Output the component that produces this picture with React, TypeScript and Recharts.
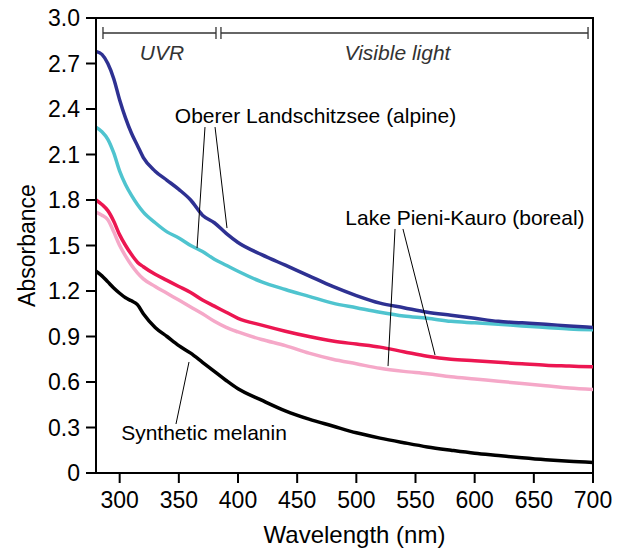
import React from "react"
import { LineChart, Line, XAxis, YAxis, ReferenceLine, ReferenceDot, ReferenceArea } from "recharts"

const wavelength = [280, 285, 290, 295, 300, 305, 310, 315, 320, 330, 340, 350, 360, 370, 380, 390, 400, 420, 440, 460, 480, 500, 520, 540, 560, 580, 600, 620, 640, 660, 680, 700]

// Oberer Landschitzsee (alpine), two extracts
const alpineDark = [2.78, 2.76, 2.7, 2.6, 2.46, 2.34, 2.24, 2.16, 2.08, 1.99, 1.93, 1.87, 1.8, 1.7, 1.65, 1.58, 1.52, 1.44, 1.37, 1.3, 1.23, 1.17, 1.12, 1.09, 1.06, 1.04, 1.02, 1.0, 0.99, 0.98, 0.97, 0.96]
const alpineLight = [2.28, 2.25, 2.2, 2.11, 1.99, 1.9, 1.83, 1.77, 1.72, 1.65, 1.59, 1.55, 1.5, 1.46, 1.41, 1.37, 1.33, 1.26, 1.21, 1.165, 1.12, 1.09, 1.06, 1.035, 1.02, 1.0, 0.99, 0.98, 0.97, 0.96, 0.95, 0.945]

// Lake Pieni-Kauro (boreal)
const borealDark = [1.8, 1.77, 1.73, 1.66, 1.57, 1.5, 1.44, 1.39, 1.36, 1.31, 1.27, 1.23, 1.19, 1.14, 1.1, 1.06, 1.02, 0.975, 0.935, 0.9, 0.87, 0.85, 0.83, 0.8, 0.77, 0.75, 0.74, 0.73, 0.72, 0.71, 0.705, 0.7]
const borealLight = [1.72, 1.7, 1.67, 1.59, 1.5, 1.43, 1.37, 1.32, 1.28, 1.23, 1.185, 1.14, 1.095, 1.05, 1.0, 0.96, 0.93, 0.88, 0.84, 0.79, 0.75, 0.72, 0.69, 0.67, 0.655, 0.635, 0.62, 0.605, 0.59, 0.575, 0.56, 0.55]

const melanin = [1.33, 1.3, 1.26, 1.22, 1.185, 1.155, 1.135, 1.11, 1.05, 0.96, 0.9, 0.84, 0.79, 0.73, 0.67, 0.61, 0.555, 0.48, 0.41, 0.355, 0.31, 0.265, 0.23, 0.2, 0.172, 0.15, 0.13, 0.115, 0.1, 0.087, 0.077, 0.07]

const xTicks = [300, 350, 400, 450, 500, 550, 600, 650, 700]
const yTicks = [0, 0.3, 0.6, 0.9, 1.2, 1.5, 1.8, 2.1, 2.4, 2.7, 3.0]

const data = wavelength.map((w, i) => ({
  w,
  alpineDark: alpineDark[i],
  alpineLight: alpineLight[i],
  borealDark: borealDark[i],
  borealLight: borealLight[i],
  melanin: melanin[i],
}))

const font = "'Liberation Sans', Arial, sans-serif"
const tickStyle = { fontSize: 23, fill: "#000" }

const seg = (x1: number, y1: number, x2: number, y2: number, stroke = "#000", w = 1) => (
  <ReferenceLine
    key={`${x1}-${y1}-${x2}-${y2}`}
    segment={[{ x: x1, y: y1 }, { x: x2, y: y2 }]}
    stroke={stroke}
    strokeWidth={w}
    ifOverflow="visible"
  />
)

const note = (x: number, y: number, text: string, italic = false) => (
  <ReferenceDot
    key={text}
    x={x}
    y={y}
    r={0}
    fill="none"
    stroke="none"
    ifOverflow="visible"
    label={{
      value: text,
      position: "center",
      fontSize: 21,
      fill: italic ? "#333" : "#000",
      fontStyle: italic ? "italic" : "normal",
    }}
  />
)

export default function App() {
  return (
    <div style={{ position: "absolute", left: 0, top: 0, fontFamily: font, background: "#fff" }}>
      <LineChart width={628} height={551} data={data} margin={{ top: 18, right: 35, left: 0, bottom: 0 }}>
        <ReferenceArea x1={280} x2={700} y1={0} y2={3} fill="none" stroke="#000" strokeWidth={2} ifOverflow="visible" />
        <XAxis
          dataKey="w"
          type="number"
          domain={[280, 700]}
          ticks={xTicks}
          allowDataOverflow
          height={78}
          tickSize={10}
          tickMargin={9}
          tick={tickStyle}
          axisLine={{ stroke: "#000", strokeWidth: 2 }}
          tickLine={{ stroke: "#000", strokeWidth: 2 }}
          label={{ value: "Wavelength (nm)", position: "insideBottom", offset: 8, fontSize: 24, fill: "#000", dx: 10 }}
        />
        <YAxis
          type="number"
          domain={[0, 3]}
          ticks={yTicks}
          width={96}
          tickSize={10}
          tickMargin={6}
          tick={tickStyle}
          tickFormatter={(v: number) => (v === 0 ? "0" : v.toFixed(1))}
          axisLine={{ stroke: "#000", strokeWidth: 2 }}
          tickLine={{ stroke: "#000", strokeWidth: 2 }}
          label={{ value: "Absorbance", angle: -90, position: "insideLeft", offset: 27, fontSize: 23, fill: "#000", style: { textAnchor: "middle" } }}
        />

        {/* UVR / visible light brackets */}
        {seg(285.9, 2.901, 381.4, 2.901, "#333", 1.3)}
        {seg(285.9, 2.862, 285.9, 2.941, "#333", 1.3)}
        {seg(381.4, 2.862, 381.4, 2.941, "#333", 1.3)}
        {seg(385.6, 2.862, 385.6, 2.941, "#333", 1.3)}
        {seg(385.6, 2.901, 695.8, 2.901, "#333", 1.3)}
        {seg(695.8, 2.862, 695.8, 2.941, "#333", 1.3)}
        {note(335.8, 2.772, "UVR", true)}
        {note(534.8, 2.772, "Visible light", true)}

        <Line dataKey="melanin" stroke="#000" strokeWidth={3.5} dot={false} type="monotone" isAnimationActive={false} />
        <Line dataKey="borealLight" stroke="#F5A8C8" strokeWidth={3.5} dot={false} type="monotone" isAnimationActive={false} />
        <Line dataKey="borealDark" stroke="#EC1651" strokeWidth={3.5} dot={false} type="monotone" isAnimationActive={false} />
        <Line dataKey="alpineLight" stroke="#4FC4CF" strokeWidth={3.5} dot={false} type="monotone" isAnimationActive={false} />
        <Line dataKey="alpineDark" stroke="#2E3192" strokeWidth={3.5} dot={false} type="monotone" isAnimationActive={false} />

        {/* leader lines */}
        {seg(372.1, 2.281, 365.4, 1.483)}
        {seg(380.6, 2.281, 390.7, 1.615)}
        {seg(532.7, 1.609, 526.8, 0.705)}
        {seg(539.4, 1.609, 566.5, 0.778)}
        {seg(347.6, 0.323, 358.6, 0.732)}

        {note(465.5, 2.356, "Oberer Landschitzsee (alpine)")}
        {note(591.8, 1.684, "Lake Pieni-Kauro (boreal)")}
        {note(371.3, 0.27, "Synthetic melanin")}
      </LineChart>
    </div>
  )
}
